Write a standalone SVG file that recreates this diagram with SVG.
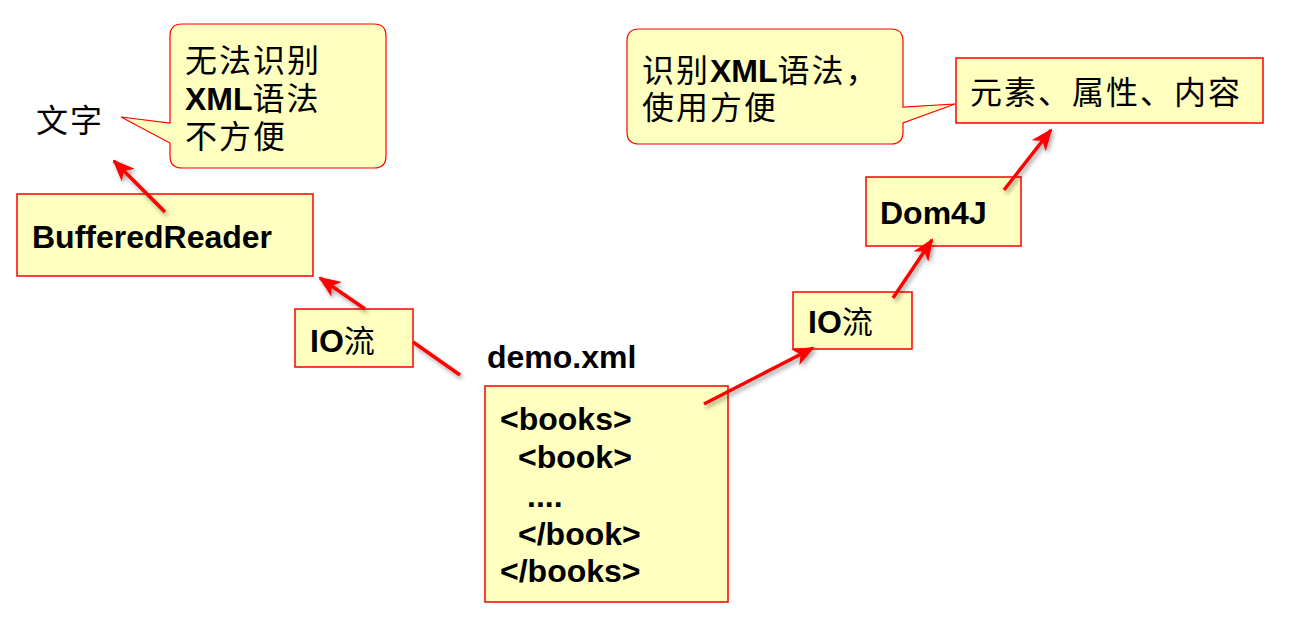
<svg xmlns="http://www.w3.org/2000/svg" width="1289" height="640" viewBox="0 0 1289 640">
<defs>
<style>
.box{fill:#FFFFC0;stroke:#FF0000;stroke-width:1.5}
.call{fill:#FFFFC0;stroke:#FF0000;stroke-width:1.2}
.b{font-family:"Liberation Sans",Arial,sans-serif;font-weight:bold;font-size:32px;fill:#000}
.cj{font-family:"Noto Sans CJK SC","Liberation Sans",sans-serif;font-size:32px;fill:#000;letter-spacing:2px}
.cjn{font-family:"Noto Sans CJK SC","Liberation Sans",sans-serif;font-size:31px;fill:#000}
.conn{fill:none;stroke:#FF0000;stroke-width:3.5}
</style>
<marker id="ah" viewBox="0 0 22 18" refX="20" refY="9" markerWidth="22" markerHeight="18" markerUnits="userSpaceOnUse" orient="auto">
<path d="M0,0 L22,9 L0,18 L6,9 Z" fill="#FF0000"/>
</marker>
<filter id="sh" x="-20%" y="-20%" width="140%" height="140%">
<feDropShadow dx="2" dy="3" stdDeviation="2" flood-color="#000" flood-opacity="0.35"/>
</filter>
</defs>
<rect width="1289" height="640" fill="#fff"/>

<g id="text-wenzi">
<text class="cj" x="36" y="132">文字</text>
</g>

<g id="callout-left">
<path class="call" d="M182,24 H374 Q386,24 386,36 V156 Q386,168 374,168 H182 Q170,168 170,156 V143 L121,117 L170,123 V36 Q170,24 182,24 Z"/>
<text class="cj" x="185" y="72">无法识别</text>
<text x="185" y="110"><tspan class="b" font-size="31">XML</tspan><tspan class="cj">语法</tspan></text>
<text class="cj" x="185" y="148">不方便</text>
</g>

<g id="node-bufferedreader">
<rect class="box" x="17" y="194" width="296" height="82"/>
<text class="b" x="32" y="248">BufferedReader</text>
</g>

<g id="node-io-left">
<rect class="box" x="295" y="309" width="118" height="58"/>
<text x="310" y="352"><tspan class="b">IO</tspan><tspan class="cjn">流</tspan></text>
</g>

<g id="node-demo">
<text class="b" x="487" y="368">demo.xml</text>
<rect class="box" x="485" y="386" width="243" height="216"/>
<text class="b" x="500" y="430">&lt;books&gt;</text>
<text class="b" x="518" y="468">&lt;book&gt;</text>
<text class="b" x="527" y="507">....</text>
<text class="b" x="518" y="545">&lt;/book&gt;</text>
<text class="b" x="500" y="582">&lt;/books&gt;</text>
</g>

<g id="node-io-right">
<rect class="box" x="793" y="292" width="119" height="57"/>
<text x="808" y="333"><tspan class="b">IO</tspan><tspan class="cjn">流</tspan></text>
</g>

<g id="node-dom4j">
<rect class="box" x="866" y="177" width="155" height="69"/>
<text class="b" x="880" y="224">Dom4J</text>
</g>

<g id="node-elements">
<rect class="box" x="956" y="58" width="307" height="65"/>
<text class="cj" x="970" y="104">元素、属性、内容</text>
</g>

<g id="callout-right">
<path class="call" d="M639,29 H891 Q903,29 903,41 V107 L955,104 L903,123 V132 Q903,144 891,144 H639 Q627,144 627,132 V41 Q627,29 639,29 Z"/>
<text x="642" y="82"><tspan class="cj">识别</tspan><tspan class="b" font-size="31">XML</tspan><tspan class="cj">语法，</tspan></text>
<text class="cj" x="642" y="119">使用方便</text>
</g>

<g id="connectors" filter="url(#sh)">
<path class="conn" marker-end="url(#ah)" d="M165,212 L114,161"/>
<path class="conn" marker-end="url(#ah)" d="M460,375 L413,342 M365,309 L320,278"/>
<path class="conn" marker-end="url(#ah)" d="M704,404 L813,348"/>
<path class="conn" marker-end="url(#ah)" d="M893,298 L932,240"/>
<path class="conn" marker-end="url(#ah)" d="M1004,190 L1051,130"/>
</g>
</svg>
